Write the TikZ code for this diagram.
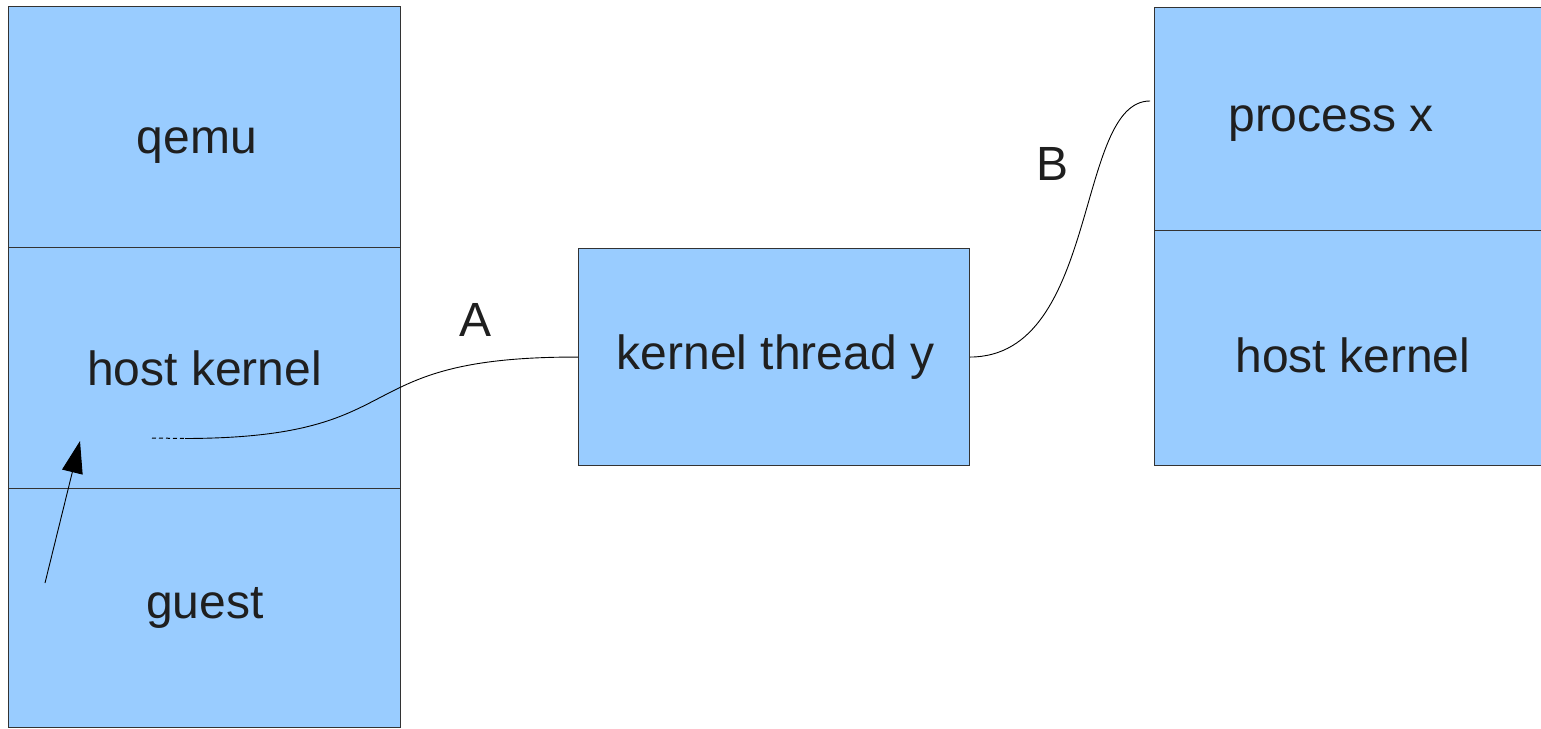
\documentclass[tikz,border=0pt]{standalone}
\usepackage{fontspec}
\setmainfont{Liberation Sans}
\usetikzlibrary{arrows.meta}
\definecolor{boxblue}{HTML}{99CCFF}
\definecolor{edge}{HTML}{333333}
\begin{document}
\begin{tikzpicture}[x=1pt,y=-1pt,
  blk/.style={draw=edge,fill=boxblue,line width=1.1pt,rectangle,inner sep=0pt,anchor=north west},
  lbl/.style={font=\fontsize{48}{50}\selectfont,text=black!88,anchor=base,inner sep=0pt},
  link/.style={draw=black,line width=0.9pt}]
\useasboundingbox (0,0) rectangle (1541,728);
\clip (0,0) rectangle (1541,728);
% left stack
\node[blk,minimum width=392pt,minimum height=241pt] (qemu) at (8,6) {};
\node[blk,minimum width=392pt,minimum height=241pt] (hk) at (8,247) {};
\node[blk,minimum width=392pt,minimum height=239pt] (guest) at (8,488) {};
% middle
\node[blk,minimum width=391pt,minimum height=217pt] (kt) at (578,248) {};
% right stack
\node[blk,minimum width=400pt,minimum height=223pt] (px) at (1154,7) {};
\node[blk,minimum width=400pt,minimum height=235pt] (hk2) at (1154,230) {};
% labels
\node[lbl] (tq) at (197,153) {qemu};
\node[lbl] (thk) at (204.5,385) {host kernel};
\node[lbl] (tg) at (205,618) {guest};
\node[lbl] (tkt) at (775.5,369) {kernel thread y};
\node[lbl] (tpx) at (1331,131) {process x};
\node[lbl] (thk2) at (1353,372) {host kernel};
\node[lbl] (la) at (476,336) {A};
\node[lbl] (lb) at (1052,180) {B};
% connector A
\coordinate (ds) at (152,438);
\coordinate (ae) at (185,438.5);
\draw[link,dash pattern=on 4pt off 3pt,line width=1pt] (ds) -- (ae);
\draw[link] (ae) .. controls (420,438) and (340,356.5) .. (kt.west);
% connector B
\coordinate (be) at (1150,101);
\draw[link] (kt.east) .. controls (1100,356.5) and (1075,101) .. (be);
% arrow
\coordinate (as) at (45,583);
\coordinate (at) at (80,441);
\draw[link,-{Triangle[length=32pt,width=21pt]}] (as) -- (at);
\end{tikzpicture}
\end{document}
